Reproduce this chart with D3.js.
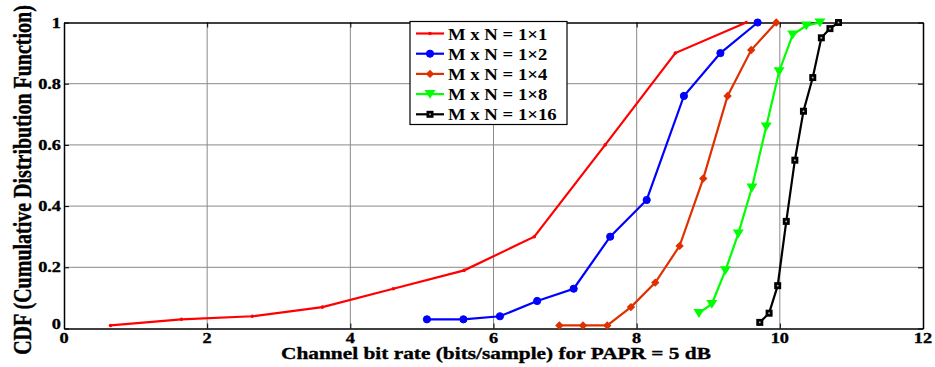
<!DOCTYPE html>
<html>
<head>
<meta charset="utf-8">
<script src="https://cdn.jsdelivr.net/npm/d3@7"></script>
<style>
  html, body { margin: 0; padding: 0; background: #fff; }
  svg text { font-family: "Liberation Serif", "Times New Roman", serif; font-weight: bold; fill: #000; }
  svg text.heavy { stroke: #000; stroke-width: 0.35px; }
</style>
</head>
<body>
<svg id="chart" width="935" height="367"></svg>
<script>
// CDF of channel bit rate for several antenna configurations
const seriesNames = ["M x N = 1\u00d71", "M x N = 1\u00d72", "M x N = 1\u00d74", "M x N = 1\u00d78", "M x N = 1\u00d716"];
const seriesColors = ["#ff0000", "#0000ff", "#e03000", "#00ff00", "#000000"];
const seriesMarkers = ["dot", "circle", "diamond", "triangle", "square"];

const x1x1 = [0.65, 1.64, 2.63, 3.61, 4.60, 5.59, 6.57, 7.56, 8.54, 9.53];
const y1x1 = [0.01, 0.03, 0.04, 0.07, 0.13, 0.19, 0.30, 0.60, 0.90, 1.00];

const x1x2 = [5.07, 5.58, 6.09, 6.61, 7.12, 7.63, 8.14, 8.66, 9.17, 9.69];
const y1x2 = [0.03, 0.03, 0.04, 0.09, 0.13, 0.30, 0.42, 0.76, 0.90, 1.00];

const x1x4 = [6.92, 7.25, 7.59, 7.92, 8.26, 8.60, 8.93, 9.27, 9.60, 9.95];
const y1x4 = [0.01, 0.01, 0.01, 0.07, 0.15, 0.27, 0.49, 0.76, 0.91, 1.00];

const x1x8 = [8.87, 9.05, 9.24, 9.42, 9.61, 9.81, 9.99, 10.18, 10.37, 10.56];
const y1x8 = [0.05, 0.08, 0.19, 0.31, 0.46, 0.66, 0.84, 0.96, 0.99, 1.00];

const x1x16 = [9.72, 9.85, 9.97, 10.09, 10.21, 10.33, 10.46, 10.58, 10.70, 10.82];
const y1x16 = [0.02, 0.05, 0.14, 0.35, 0.55, 0.71, 0.82, 0.95, 0.98, 1.00];

const xTicks = [0, 2, 4, 6, 8, 10, 12];
const yTicks = [0, 0.2, 0.4, 0.6, 0.8, 1];
const xTickLabels = ["0", "2", "4", "6", "8", "10", "12"];
const yTickLabels = ["0", "0.2", "0.4", "0.6", "0.8", "1"];
const xLabel = "Channel bit rate (bits/sample) for PAPR = 5 dB";
const yLabel = "CDF (Cumulative Distribution Function)";

const seriesX = [x1x1, x1x2, x1x4, x1x8, x1x16];
const seriesY = [y1x1, y1x2, y1x4, y1x8, y1x16];

const svg = d3.select("#chart");
const pL = 64, pR = 923, pT = 22.5, pB = 328.5;
const SX = 1.22; // wide glyph aspect used for all labels

const x = d3.scaleLinear().domain([0, 12]).range([pL, pR]);
const y = d3.scaleLinear().domain([0, 1]).range([pB, pT]);

// grid
const grid = svg.append("g").attr("stroke", "#8a8a8a").attr("stroke-width", 1);
xTicks.slice(1, -1).forEach(t => {
  grid.append("line").attr("x1", x(t)).attr("x2", x(t)).attr("y1", pT).attr("y2", pB);
});
yTicks.slice(1, -1).forEach(t => {
  grid.append("line").attr("x1", pL).attr("x2", pR).attr("y1", y(t)).attr("y2", y(t));
});

// box axes with inward ticks
const axB = svg.append("g").attr("transform", `translate(0,${pB})`)
  .call(d3.axisBottom(x).tickValues(xTicks).tickFormat("").tickSizeInner(-5).tickSizeOuter(0));
const axT = svg.append("g").attr("transform", `translate(0,${pT})`)
  .call(d3.axisTop(x).tickValues(xTicks).tickFormat("").tickSizeInner(-5).tickSizeOuter(0));
const axL = svg.append("g").attr("transform", `translate(${pL},0)`)
  .call(d3.axisLeft(y).tickValues(yTicks).tickFormat("").tickSizeInner(-5).tickSizeOuter(0));
const axR = svg.append("g").attr("transform", `translate(${pR},0)`)
  .call(d3.axisRight(y).tickValues(yTicks).tickFormat("").tickSizeInner(-5).tickSizeOuter(0));
[axB, axT, axL, axR].forEach(a => {
  a.selectAll("path").attr("stroke", "#000").attr("stroke-width", 1.5);
  a.selectAll("line").attr("stroke", "#000");
});

// tick labels
xTicks.forEach((t, i) => {
  svg.append("text").attr("class", "heavy").attr("transform", `translate(${x(t)},343) scale(${SX},1)`)
    .attr("text-anchor", "middle").style("font-size", "15px").text(xTickLabels[i]);
});
yTicks.forEach((t, i) => {
  const dy = t === 0 ? 0 : 5;
  svg.append("text").attr("class", "heavy").attr("transform", `translate(61,${y(t) + dy}) scale(${SX},1)`)
    .attr("text-anchor", "end").style("font-size", "15px").text(yTickLabels[i]);
});

// series
function drawMarker(g, type, cx, cy, color) {
  if (type === "dot") {
    g.append("circle").attr("cx", cx).attr("cy", cy).attr("r", 1.8).attr("fill", color);
  } else if (type === "circle") {
    g.append("circle").attr("cx", cx).attr("cy", cy).attr("r", 3.6).attr("fill", color).attr("stroke", color).attr("stroke-width", 1);
  } else if (type === "diamond") {
    const s = 4.2;
    g.append("path").attr("d", `M${cx},${cy - s}L${cx + s},${cy}L${cx},${cy + s}L${cx - s},${cy}Z`).attr("fill", color);
  } else if (type === "triangle") {
    const s = 5.5;
    g.append("path").attr("d", `M${cx - s},${cy - s * 0.75}L${cx + s},${cy - s * 0.75}L${cx},${cy + s * 0.85}Z`).attr("fill", color);
  } else if (type === "square") {
    g.append("rect").attr("x", cx - 3.5).attr("y", cy - 3.5).attr("width", 7).attr("height", 7).attr("fill", color);
    g.append("rect").attr("x", cx - 0.8).attr("y", cy - 0.8).attr("width", 1.6).attr("height", 1.6).attr("fill", "#bbb");
  }
}

const line = d3.line().x(d => x(d[0])).y(d => y(d[1]));
seriesX.forEach((xs, i) => {
  const pts = xs.map((v, j) => [v, seriesY[i][j]]);
  const g = svg.append("g");
  g.append("path").attr("d", line(pts)).attr("fill", "none").attr("stroke", seriesColors[i]).attr("stroke-width", 2.2);
  pts.forEach(p => drawMarker(g, seriesMarkers[i], x(p[0]), y(p[1]), seriesColors[i]));
});

// legend
const lg = svg.append("g");
lg.append("rect").attr("x", 410).attr("y", 21.5).attr("width", 157).attr("height", 103)
  .attr("fill", "#fff").attr("stroke", "#000").attr("stroke-width", 1.2);
seriesNames.forEach((name, i) => {
  const cy = 33.5 + i * 20.2;
  lg.append("line").attr("x1", 416).attr("x2", 444).attr("y1", cy).attr("y2", cy)
    .attr("stroke", seriesColors[i]).attr("stroke-width", 2.2);
  drawMarker(lg, seriesMarkers[i], 430, cy, seriesColors[i]);
  lg.append("text").attr("transform", `translate(448,${cy + 6}) scale(1.17,1)`)
    .style("font-size", "16px").text(name);
});

// axis titles
svg.append("text").attr("class", "heavy").attr("transform", `translate(496,358.5) scale(${SX},1)`).attr("text-anchor", "middle")
  .style("font-size", "17.5px").text(xLabel);
svg.append("text").attr("class", "heavy").attr("transform", `translate(30.5,180) rotate(-90) scale(1,${SX})`)
  .attr("text-anchor", "middle").style("font-size", "20px").text(yLabel);
</script>
</body>
</html>
